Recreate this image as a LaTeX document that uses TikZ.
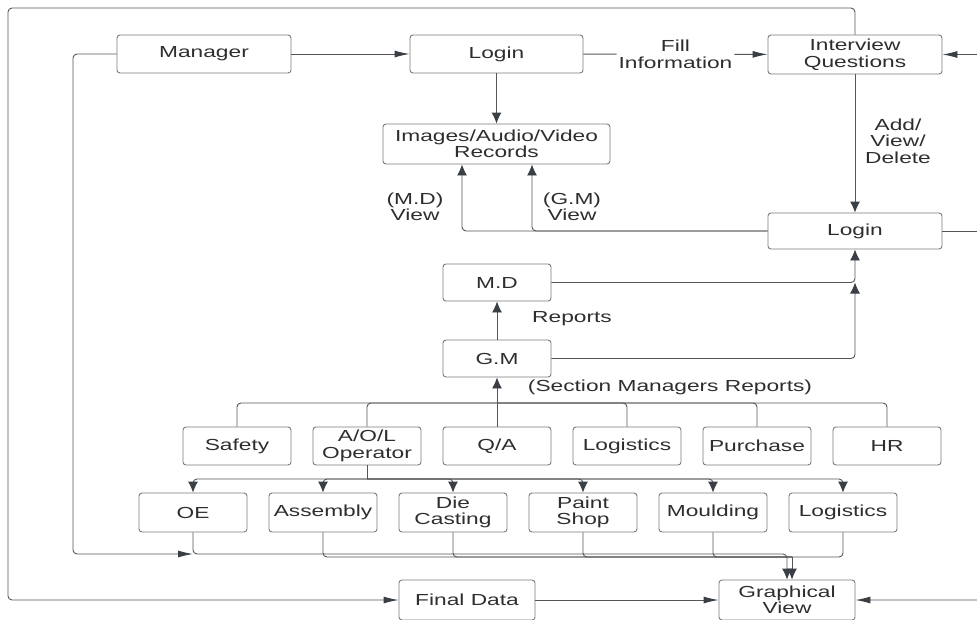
\documentclass[tikz,border=0pt]{standalone}
\usepackage{fontspec}
\setmainfont{Liberation Sans}[FakeStretch=1.42]
\usetikzlibrary{arrows.meta,calc}
\definecolor{linec}{HTML}{555555}
\definecolor{boxc}{HTML}{7A7A7A}
\definecolor{txtc}{HTML}{2E2E2E}
\definecolor{tipc}{HTML}{3A3F45}
\tikzset{
  box/.style={draw=boxc, line width=0.9pt, rounded corners=3pt, align=center,
    inner sep=1pt, text=txtc, font=\fontsize{16}{16.5}\selectfont},
  lbl/.style={align=center, inner sep=1pt, text=txtc, font=\fontsize{16}{16.5}\selectfont},
  conn/.style={draw=linec, line width=0.9pt, rounded corners=4pt},
  harr/.style={conn, -{Latex[length=15pt,width=7pt,color=tipc]}},
  varr/.style={conn, -{Latex[length=11pt,width=10pt,color=tipc]}},
}
\begin{document}
\begin{tikzpicture}[x=1pt,y=-1pt]
\useasboundingbox (0,0) rectangle (977,619);
\clip (0,0) rectangle (977,619);
% nodes
\node[box, minimum width=174pt, minimum height=38pt] (mgr) at (204,54) {Manager};
\node[box, minimum width=173pt, minimum height=38pt] (login1) at (496.5,54) {Login};
\node[box, minimum width=174pt, minimum height=39pt] (iq) at (855,54.5) {Interview\\Questions};
\node[box, minimum width=227pt, minimum height=40pt] (rec) at (496.5,144) {Images/Audio/Video\\Records};
\node[box, minimum width=174pt, minimum height=36pt] (login2) at (855,231) {Login};
\node[box, minimum width=108pt, minimum height=37pt] (md) at (497,282.5) {M.D};
\node[box, minimum width=108pt, minimum height=37pt] (gm) at (497,358.5) {G.M};
% row 1
\node[box, minimum width=108pt, minimum height=38pt] (safety) at (237,446) {Safety};
\node[box, minimum width=108pt, minimum height=38pt] (aol) at (367,446) {A/O/L\\Operator};
\node[box, minimum width=108pt, minimum height=38pt] (qa) at (497,446) {Q/A};
\node[box, minimum width=108pt, minimum height=38pt] (logA) at (627,446) {Logistics};
\node[box, minimum width=108pt, minimum height=38pt] (pur) at (757,446) {Purchase};
\node[box, minimum width=108pt, minimum height=38pt] (hr) at (887,446) {HR};
% row 2
\node[box, minimum width=108pt, minimum height=39pt] (oe) at (193,512.5) {OE};
\node[box, minimum width=108pt, minimum height=39pt] (asm) at (323,512.5) {Assembly};
\node[box, minimum width=108pt, minimum height=39pt] (die) at (453,512.5) {Die\\Casting};
\node[box, minimum width=108pt, minimum height=39pt] (paint) at (583,512.5) {Paint\\Shop};
\node[box, minimum width=108pt, minimum height=39pt] (mould) at (713,512.5) {Moulding};
\node[box, minimum width=108pt, minimum height=39pt] (logB) at (843,512.5) {Logistics};
% bottom
\node[box, minimum width=136pt, minimum height=40pt] (final) at (467,600) {Final Data};
\node[box, minimum width=136pt, minimum height=40pt] (gv) at (787,600) {Graphical\\View};

% labels
\node[lbl] (lview1) at (415,207) {(M.D)\\View};
\node[lbl] (lview2) at (572,207) {(G.M)\\View};
\node[lbl] (ladd) at (898,141) {Add/\\View/\\Delete};
\node[lbl] (lrep) at (572,319) {Reports};
\node[lbl] (lsec) at (670,387) {(Section Managers Reports)};

% coordinates
\coordinate (rt) at (990,231);
\coordinate (busA) at (497,403);
\coordinate (busB) at (367,479);
\coordinate (oeb) at (193,554);
\coordinate (gvA) at (787,554);
\coordinate (gvB) at (792,557);

% connectors
\draw[harr] (iq.north) |- (8,8) |- (final.west);
\draw[harr] (mgr) -- (login1);
\draw[harr] (login1) -- node[lbl, fill=white, inner sep=2pt] (lfill) {Fill\\Information} (iq);
\draw[varr] (login1) -- (rec);
\draw[varr] (iq) -- (login2);
\draw[varr] (login2.west) -| ($(rec.south)+(35.5,0)$);
\draw[varr] (login2.west) -| ($(rec.south)+(-34.5,0)$);
\draw[varr] (gm) -- (md);
\draw[varr] (md.east) -| (login2.south);
\draw[varr] (gm.east) -| (md.east -| login2.south);
% section bus
\draw[conn] (safety.north) |- (busA);
\draw[conn] (aol.north) |- (busA);
\draw[conn] (logA.north) |- (busA);
\draw[conn] (pur.north) |- (busA);
\draw[conn] (hr.north) |- (busA);
\draw[varr] (qa.north) -- (gm.south);
% A/O/L to row 2
\draw[conn] (aol.south) -- (busB);
\foreach \n in {oe,asm,die,paint,mould,logB}{
  \draw[varr] (busB) -| (\n.north);
}
% row 2 to graphical view
\draw[varr] (oe.south) |- (gvA) -- (gvA |- gv.north);
\foreach \n in {asm,die,paint,mould,logB}{
  \draw[conn] (\n.south) |- (gvB);
}
\draw[varr] (gvB) -- (gvB |- gv.north);
% manager to graphical bus
\draw[harr] (mgr.west) -| (73,554) -- (oeb);
% bottom
\draw[harr] (final) -- (gv);
% right side
\draw[conn] (login2.east) -- (rt);
\draw[harr] (rt) |- (iq.east);
\draw[harr] (rt) |- (gv.east);
\end{tikzpicture}
\end{document}
